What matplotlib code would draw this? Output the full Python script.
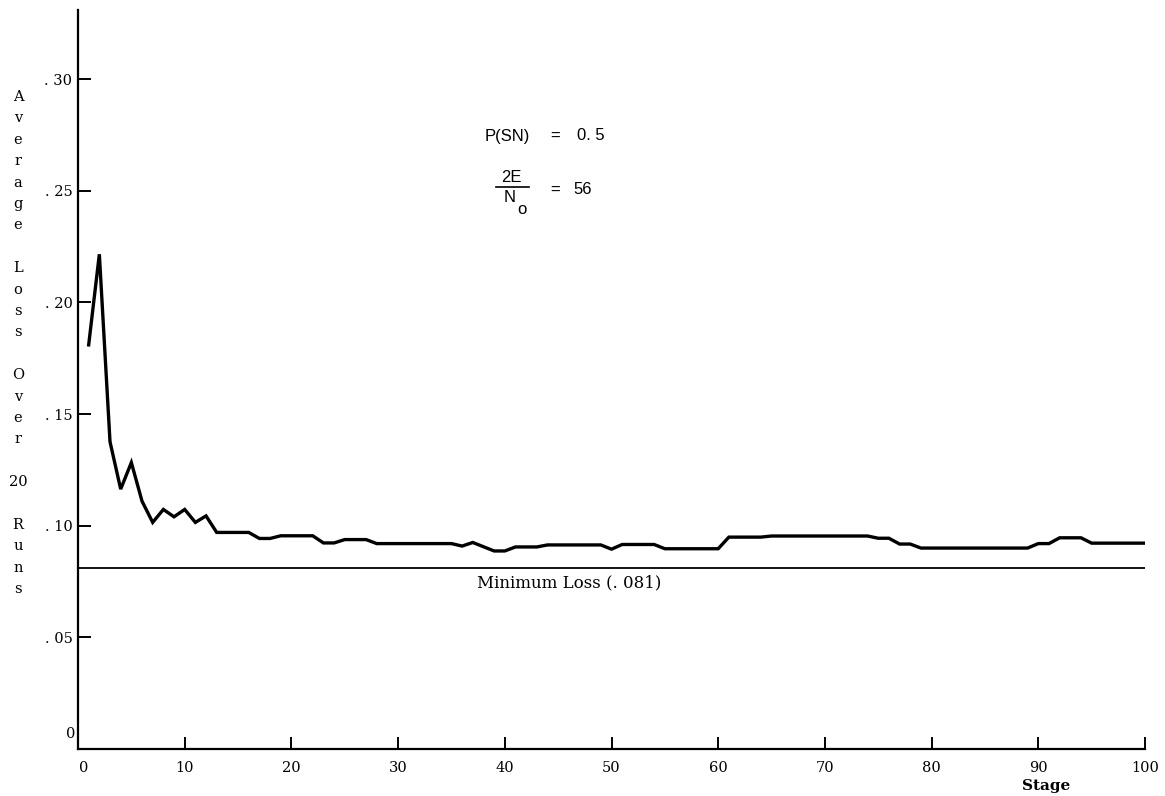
#!/usr/bin/env python3
"""Average loss over 20 runs versus learning stage, with the minimum-loss reference level."""
import numpy as np
import matplotlib
matplotlib.use('Agg')
import matplotlib.pyplot as plt
from matplotlib.lines import Line2D
from matplotlib.transforms import ScaledTranslation

# --- Data -------------------------------------------------------------------
STAGES = np.arange(1, 101)
AVG_LOSS = [
    0.1810, 0.2216, 0.1376, 0.1164, 0.1283, 0.1110, 0.1015, 0.1073, 0.1040, 0.1073,
    0.1015, 0.1044, 0.0970, 0.0970, 0.0970, 0.0970, 0.0943, 0.0943, 0.0955, 0.0955,
    0.0955, 0.0955, 0.0923, 0.0923, 0.0938, 0.0938, 0.0938, 0.0920, 0.0920, 0.0920,
    0.0920, 0.0920, 0.0920, 0.0920, 0.0920, 0.0909, 0.0925, 0.0906, 0.0887, 0.0887,
    0.0905, 0.0905, 0.0905, 0.0914, 0.0914, 0.0914, 0.0914, 0.0914, 0.0914, 0.0895,
    0.0916, 0.0916, 0.0916, 0.0916, 0.0897, 0.0897, 0.0897, 0.0897, 0.0897, 0.0897,
    0.0949, 0.0949, 0.0949, 0.0949, 0.0954, 0.0954, 0.0954, 0.0954, 0.0954, 0.0954,
    0.0954, 0.0954, 0.0954, 0.0954, 0.0944, 0.0944, 0.0918, 0.0918, 0.0900, 0.0900,
    0.0900, 0.0900, 0.0900, 0.0900, 0.0900, 0.0900, 0.0900, 0.0900, 0.0900, 0.0920,
    0.0920, 0.0946, 0.0946, 0.0946, 0.0922, 0.0922, 0.0922, 0.0922, 0.0922, 0.0922,
]
MIN_LOSS = 0.081

X_TICKS = [0, 10, 20, 30, 40, 50, 60, 70, 80, 90, 100]
Y_TICKS = [0, 0.05, 0.10, 0.15, 0.20, 0.25, 0.30]
Y_TICK_LABELS = ['0', '. 05', '. 10', '. 15', '. 20', '. 25', '. 30']
Y_LABEL_WORDS = ['Average', 'Loss', 'Over', '20', 'Runs']

# --- Figure -----------------------------------------------------------------
W, H = 1165, 796
SERIF = 'DejaVu Serif'
SANS = 'Liberation Sans'

fig = plt.figure(figsize=(W / 100, H / 100), dpi=100)
ax = fig.add_axes([78 / W, (H - 749) / H, (1145 - 78) / W, (749 - 10) / H])


def fx(px):
    return px / W


def fy(py):
    return 1 - py / H


ax.plot(STAGES, AVG_LOSS, color='black', lw=2.4, solid_joinstyle='miter')
ax.plot([0, 100], [MIN_LOSS, MIN_LOSS], color='black', lw=1.3)
ax.text(46, MIN_LOSS - 0.003, 'Minimum Loss (. 081)', ha='center', va='top',
        fontsize=12, family=SERIF)

ax.set_xlim(0, 100)
ax.set_ylim(0, 0.331)
for side in ('top', 'right'):
    ax.spines[side].set_visible(False)
for side in ('left', 'bottom'):
    ax.spines[side].set_linewidth(1.6)

ax.set_xticks(X_TICKS)
ax.set_xticklabels([str(t) for t in X_TICKS], family=SERIF, fontsize=10.5)
ax.set_yticks(Y_TICKS)
ax.set_yticklabels(Y_TICK_LABELS, family=SERIF, fontsize=10.5)
ax.tick_params(axis='both', direction='in', length=9, width=1.4)
ax.tick_params(axis='x', pad=9)
ax.tick_params(axis='y', pad=4)
ax.yaxis.get_major_ticks()[0].tick1line.set_visible(False)
ax.xaxis.get_major_ticks()[0].tick1line.set_visible(False)

# the zero labels sit a little off the corner
zero_y = ax.get_yticklabels()[0]
zero_y.set_transform(zero_y.get_transform() +
                     ScaledTranslation(0.03, 0.16, fig.dpi_scale_trans))
zero_x = ax.get_xticklabels()[0]
zero_x.set_transform(zero_x.get_transform() +
                     ScaledTranslation(0.06, 0.0, fig.dpi_scale_trans))

fig.text(fx(1046), fy(786), 'Stage', ha='center', va='center',
         fontsize=11, family=SERIF, fontweight='bold')

# stacked y-axis caption, one character per line
y_pos = 97
step = 21.4
for word in Y_LABEL_WORDS:
    chars = [word] if word.isdigit() else list(word)
    for ch in chars:
        fig.text(fx(18), fy(y_pos), ch, ha='center', va='center',
                 fontsize=10.5, family=SERIF)
        y_pos += step
    y_pos += step

# parameter annotation
fig.text(fx(485), fy(136), 'P(SN)', ha='left', va='center', fontsize=12, family=SANS)
fig.text(fx(555), fy(136), '=', ha='center', va='center', fontsize=12, family=SANS)
fig.text(fx(577), fy(136), '0. 5', ha='left', va='center', fontsize=12, family=SANS)

fig.text(fx(511), fy(177), '2E', ha='center', va='center', fontsize=12, family=SANS)
fig.add_artist(Line2D([fx(496), fx(529)], [fy(187), fy(187)], color='black', lw=1.2))
fig.text(fx(510), fy(198), 'N', ha='center', va='center', fontsize=12, family=SANS)
fig.text(fx(522), fy(209), 'o', ha='center', va='center', fontsize=12, family=SANS)
fig.text(fx(555), fy(190), '=', ha='center', va='center', fontsize=12, family=SANS)
fig.text(fx(573), fy(190), '56', ha='left', va='center', fontsize=12, family=SANS)

fig.savefig('out.png', dpi=100, facecolor='white')
